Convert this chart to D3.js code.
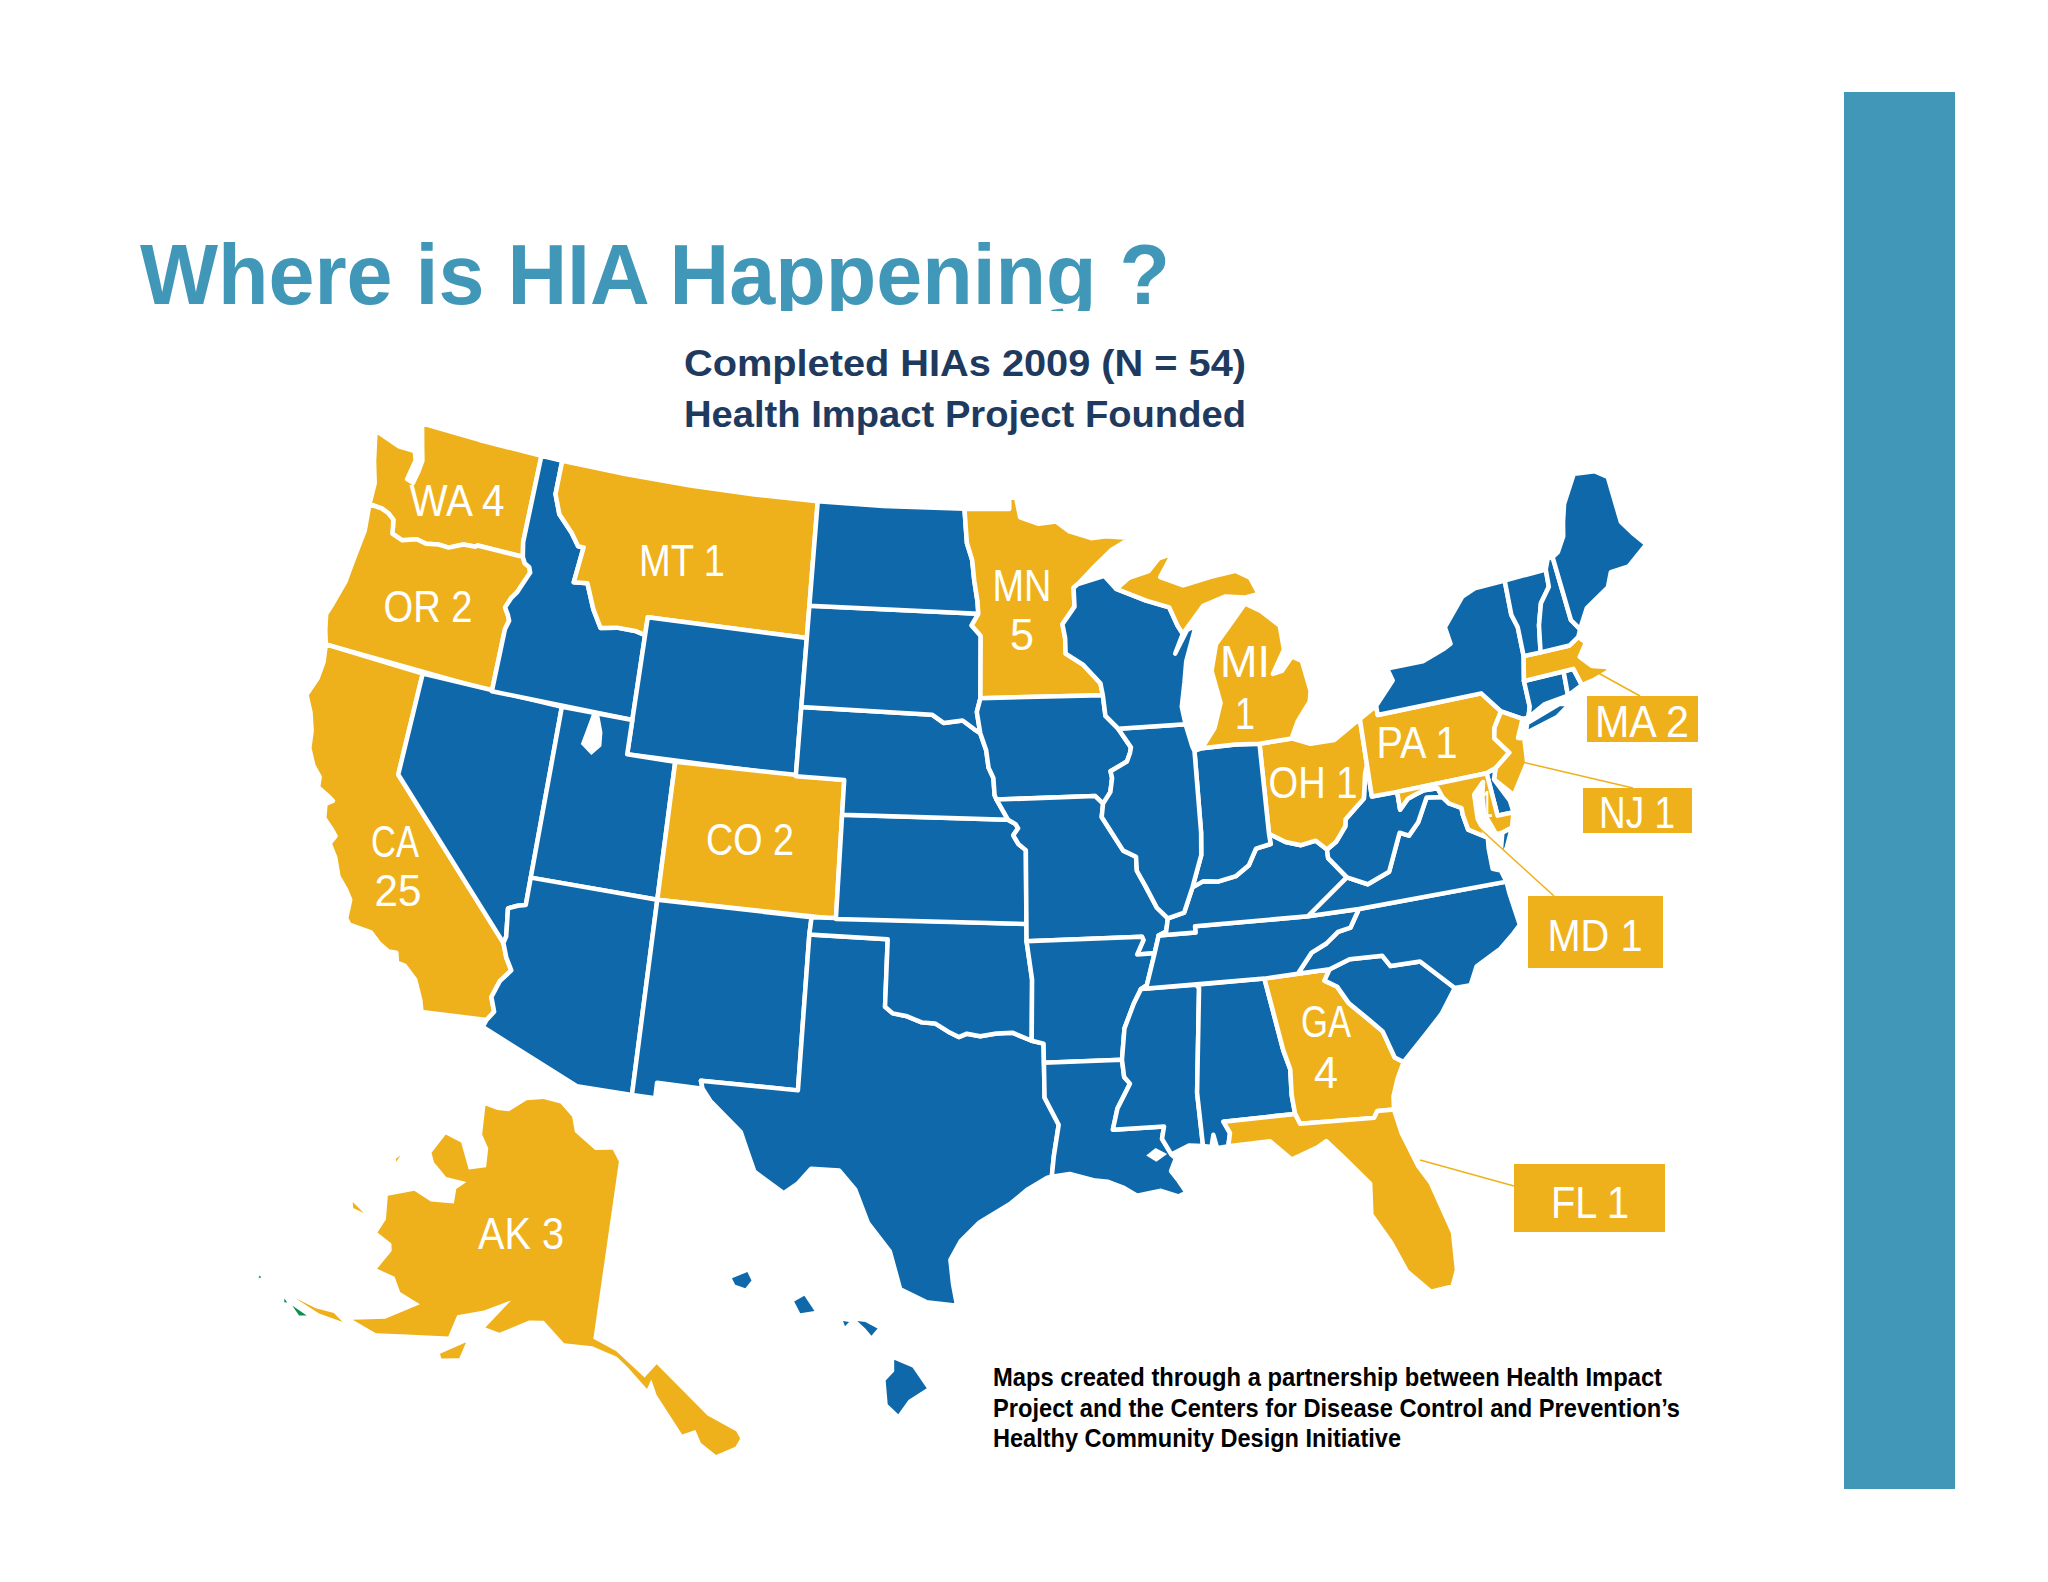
<!DOCTYPE html>
<html>
<head>
<meta charset="utf-8">
<script src="https://cdn.jsdelivr.net/npm/d3@7"></script>
<style>
  html, body { margin: 0; background: #fff; }
  svg { display: block; }
  text { font-family: "Liberation Sans", sans-serif; }
</style>
</head>
<body>
<svg width="2048" height="1582"></svg>
<script>
// what the slide says
var titleText = "Where is HIA Happening ?";
var subtitleLines = ["Completed HIAs 2009 (N = 54)", "Health Impact Project Founded"];
var creditLines = [
  "Maps created through a partnership between Health Impact",
  "Project and the Centers for Disease Control and Prevention\u2019s",
  "Healthy Community Design Initiative"
];

// states with a completed HIA and how many
var hiaStates = ["WA", "OR", "CA", "MT", "CO", "MN", "MI", "OH", "PA", "NJ", "MA", "MD", "GA", "FL", "AK"];
var hiaCounts = [4, 2, 25, 1, 2, 5, 1, 1, 1, 1, 2, 1, 4, 1, 3];

// shared borders, lon/lat
var columbia = [[-124.07,46.27],[-123.5,46.26],[-123.17,46.19],[-122.87,46.05],[-122.8,45.85],[-122.75,45.65],[-122.25,45.55],[-121.65,45.7],[-121.2,45.65],[-120.65,45.73],[-120.2,45.72],[-119.6,45.92],[-119.05,45.95],[-118.98,46],[-116.92,46]];
var snake = [[-116.92,46],[-116.78,45.83],[-116.55,45.75],[-116.46,45.6],[-116.7,45.2],[-116.85,44.95],[-117.05,44.75],[-117.22,44.45],[-117.03,44.25],[-116.93,44.1],[-117.03,43.83],[-117.03,42]];
var caCoast = [[-124.21,42],[-124.1,41.5],[-124.15,41],[-124.4,40.44],[-124.05,40],[-123.8,39.5],[-123.7,39],[-123.35,38.55],[-123,38.3],[-122.95,38],[-122.5,37.85],[-122.25,37.75],[-122.5,37.6],[-122.4,37.2],[-122,36.95],[-121.8,36.8],[-121.95,36.55],[-121.6,36.2],[-121.3,35.7],[-120.9,35.4],[-120.65,35.15],[-120.63,34.6],[-120.45,34.45],[-119.6,34.4],[-119.2,34.15],[-118.8,34],[-118.5,34.02],[-118.4,33.75],[-118.1,33.72],[-117.6,33.4],[-117.25,32.85],[-117.12,32.53]];
var coloradoR = [[-114.72,32.72],[-114.5,33],[-114.7,33.4],[-114.5,33.9],[-114.15,34.27],[-114.42,34.6],[-114.63,35]];
var nvAz = [[-114.63,35],[-114.57,35.2],[-114.7,36],[-114.35,36.13],[-114.05,36.2]];
var rioGrande = [[-106.53,31.78],[-106.2,31.45],[-105,30.65],[-104.7,30.1],[-104.4,29.55],[-103.3,29],[-102.85,29.3],[-102.4,29.77],[-101.4,29.77],[-100.8,29.25],[-100.3,28.3],[-99.5,27.5],[-99.1,26.4],[-98.2,26.05],[-97.15,25.96]];
var sabine = [[-93.84,29.7],[-93.75,30.3],[-93.55,31.2],[-94.04,31.99],[-94.04,33]];
var redR = [[-94.48,33.64],[-95.2,33.88],[-95.8,33.86],[-96.4,33.78],[-96.9,33.85],[-97.2,33.75],[-97.6,33.9],[-98.1,34.13],[-98.6,34.15],[-99.2,34.32],[-99.7,34.38],[-100,34.56]];
var neSd = [[-104.05,43],[-98.5,43],[-98,42.77],[-97.2,42.85],[-96.7,42.6],[-96.45,42.49]];
var neIa = [[-96.45,42.49],[-96.2,42],[-96.1,41.5],[-95.9,41.2],[-95.85,40.7],[-95.77,40.58]];
var ksMo = [[-95.31,40],[-95,39.87],[-94.9,39.75],[-95.1,39.55],[-94.9,39.3],[-94.6,39.12]];
var sdIa = [[-96.45,43.5],[-96.6,43.1],[-96.45,42.49]];
var ndMn = [[-97.23,49],[-97.1,48],[-96.85,47.5],[-96.75,46.9],[-96.6,46.3],[-96.56,45.94]];
var sdMn = [[-96.56,45.94],[-96.85,45.6],[-96.45,45.3],[-96.45,43.5]];
var stCroix = [[-92.3,46.65],[-92.29,46.1],[-92.85,45.6],[-92.75,45.2],[-92.75,44.75],[-92,44.4],[-91.3,43.85],[-91.22,43.5]];
var iaWi = [[-91.22,43.5],[-91.15,42.9],[-90.64,42.51]];
var iaIl = [[-90.64,42.51],[-90.15,41.95],[-90.2,41.8],[-90.35,41.55],[-91.05,41.3],[-91,41.1],[-91.1,40.7],[-91.42,40.38]];
var moIl = [[-91.42,40.38],[-91.5,40],[-91.1,39.5],[-90.7,39],[-90.2,38.8],[-90.2,38.4],[-89.9,37.95],[-89.5,37.3],[-89.1,36.97]];
var kyMo = [[-89.1,36.97],[-89.2,36.6],[-89.5,36.5]];
var arMs = [[-90.3,35],[-90.6,34.6],[-91,33.9],[-91.15,33]];
var laMs = [[-91.15,33],[-91.1,32.5],[-90.9,32.3],[-91.4,31.6],[-91.6,31],[-89.75,31],[-89.85,30.65],[-89.55,30.18]];
var wvOhio = [[-80.52,40.64],[-80.65,40.4],[-80.85,39.7],[-81.7,39.2],[-81.75,39],[-82.2,38.6],[-82.6,38.42]];
var kyOhio = [[-82.6,38.42],[-83,38.72],[-83.6,38.65],[-84.2,38.8],[-84.82,39.1]];
var inOhio = [[-84.82,39.1],[-84.8,38.8],[-85.4,38.72],[-85.75,38.27],[-86.3,38],[-87,37.9],[-87.6,37.95],[-88.05,37.8]];
var ilOhio = [[-88.05,37.8],[-88.45,37.1],[-89.1,36.97]];
var wabash = [[-87.52,41.7],[-87.53,39.35],[-87.6,38.7],[-88.05,37.8]];
var wiMi = [[-90.4,46.55],[-89.1,46.15],[-88.1,45.9],[-87.8,45.35],[-87.6,45.1]];
var gaAl = [[-85.6,34.98],[-85.18,32.87],[-85,32.3],[-85.05,31.55],[-85,31]];
var gaSc = [[-83.1,35],[-83.35,34.7],[-82.9,34.47],[-82.55,33.95],[-81.9,33.4],[-81.45,33],[-81.15,32.2],[-80.85,32.03]];
var gaFl = [[-85,31],[-84.86,30.7],[-82.2,30.57],[-82.05,30.75],[-81.45,30.72]];
var ncSc = [[-83.1,35],[-82.3,35.2],[-81.05,35.15],[-80.8,34.82],[-79.67,34.8],[-78.55,33.86]];
var ncTn = [[-84.32,35],[-83.7,35.55],[-83.1,35.75],[-82.6,36.03],[-82.1,36.1],[-81.68,36.59]];
var kyVa = [[-83.67,36.6],[-81.97,37.54]];
var vaWv = [[-81.97,37.54],[-81.2,37.25],[-80.3,37.5],[-79.65,38.55],[-79.3,38.42],[-78.85,38.75],[-78.35,39.4],[-77.72,39.32]];
var potomacVa = [[-76.25,37.9],[-76.95,38.25],[-77.05,38.7],[-77.05,38.9],[-77.5,39.1],[-77.72,39.32]];
var potomacWv = [[-77.72,39.32],[-77.85,39.6],[-78.4,39.62],[-78.75,39.55],[-79.1,39.47],[-79.48,39.2],[-79.48,39.72]];
var delawareR = [[-74.7,41.36],[-75.1,40.95],[-75.2,40.65],[-74.72,40.15],[-75.4,39.8]];
var idMt = [[-116.05,49],[-116.05,48],[-115.7,47.45],[-115,47],[-114.6,46.65],[-114.35,46.65],[-114.5,45.6],[-113.9,45.65],[-113.45,44.95],[-113,44.45],[-112.3,44.55],[-111.5,44.55],[-111.05,44.48]];
var vtNh = [[-71.5,45.01],[-71.55,44.5],[-72.05,44.1],[-72.35,43.5],[-72.55,42.73]];
var nyVt = [[-73.35,45.01],[-73.4,44],[-73.25,43.6],[-73.28,42.75]];

function rev(a) { return a.slice().reverse(); }

// one outline per state, lon/lat
var stateRings = {
  WA: [[[-124.73,48.38],[-123.5,48.15],[-122.75,48.15],[-122.6,47.9],[-122.75,47.3],[-122.45,47.25],[-122.35,47.6],[-122.3,47.95],[-122.5,48.4],[-122.76,49],[-120,49],[-117.04,49],[-117.04,46.42]].concat(rev(columbia)).concat([[-124.1,46.9],[-124.4,47.5]])],
  OR: [columbia.concat(snake).concat([[-124.21,42],[-124.4,42.4],[-124.55,42.84],[-124.4,43.2],[-124.15,43.9],[-124.07,44.6],[-123.95,45.5]])],
  CA: [caCoast.concat([[-114.72,32.72]]).concat(coloradoR).concat([[-120,39],[-120,42]])],
  NV: [[[-120,42],[-114.04,42]].concat(rev(nvAz)).concat([[-120,39]])],
  ID: [[[-117.04,49]].concat(idMt).concat([[-111.05,42]]).concat(rev(snake)).concat([[-117.04,46.42]])],
  MT: [[[-116.05,49],[-113,49],[-110,49],[-107,49],[-104.05,49],[-104.05,45],[-111.05,45]].concat(rev(idMt).slice(0,-1))],
  WY: [[[-111.05,45],[-104.05,45],[-104.05,41],[-111.05,41]]],
  UT: [[[-114.04,42],[-111.05,42],[-111.05,41],[-109.05,41],[-109.05,37],[-114.05,37]]],
  CO: [[[-109.05,41],[-102.05,41],[-102.05,37],[-109.05,37]]],
  AZ: [[[-114.05,37],[-109.05,37],[-109.05,31.33],[-111.07,31.33],[-114.81,32.5]].concat(coloradoR).concat(nvAz)],
  NM: [[[-109.05,37],[-103,37],[-103.04,36.5],[-103.06,32],[-106.62,32],[-106.53,31.78],[-108.2,31.78],[-108.2,31.33],[-109.05,31.33]]],
  TX: [[[-103.04,36.5],[-103.06,32],[-106.62,32]].concat(rioGrande).concat([[-97.3,26.6],[-97.4,27.3],[-97.05,27.85],[-96.4,28.4],[-95.3,28.95],[-94.7,29.35],[-94,29.68]]).concat(sabine).concat([[-94.04,33.55]]).concat(redR).concat([[-100,36.5]])],
  OK: [[[-103,37],[-94.62,37],[-94.62,36.5],[-94.43,35.4]].concat(redR).concat([[-100,36.5],[-103.04,36.5]])],
  KS: [[[-102.05,40]].concat(ksMo).concat([[-94.62,37],[-102.05,37]])],
  NE: [neSd.concat(neIa).concat([[-95.31,40],[-102.05,40],[-102.05,41],[-104.05,41]])],
  SD: [[[-104.05,45.94]].concat(sdMn).concat(sdIa).concat(rev(neSd))],
  ND: [[[-104.05,49],[-101,49]].concat(ndMn).concat([[-104.05,45.94]])],
  MN: [[[-97.23,49],[-95.15,49],[-95.15,49.38],[-94.82,49.3],[-94.65,48.75],[-93.8,48.55],[-93,48.6],[-92.4,48.3],[-91.4,48.07],[-90.75,48.1],[-89.6,48],[-90.5,47.7],[-91.3,47.25],[-92.1,46.75]].concat(stCroix).concat(rev(sdMn)).concat(rev(ndMn))],
  IA: [[[-96.45,43.5]].concat(iaWi).concat(iaIl).concat([[-91.73,40.61]]).concat(rev(neIa)).concat([[-96.6,43.1]])],
  MO: [[[-95.77,40.58],[-91.73,40.61]].concat(moIl).concat(kyMo).concat([[-89.7,36],[-90.37,36],[-90.1,36.4],[-90.15,36.5],[-94.62,36.5]]).concat(rev(ksMo))],
  AR: [[[-94.62,36.5],[-90.15,36.5],[-90.1,36.4],[-90.37,36],[-89.7,36],[-90.07,35.1],[-90.3,35]].concat(arMs).concat([[-94.04,33],[-94.04,33.55],[-94.48,33.64],[-94.43,35.4]])],
  LA: [[[-94.04,33]].concat(rev(arMs).slice(0,1)).concat(laMs).concat([[-89.4,30.05],[-89.6,29.7],[-89.35,29.4],[-89.1,29.05],[-89.4,28.95],[-90,29.15],[-90.85,29.05],[-91.3,29.3],[-91.85,29.5],[-92.3,29.55],[-93.2,29.77]]).concat(sabine)],
  MS: [[[-88.2,35],[-88.1,34.9],[-88.47,31.9],[-88.4,30.35],[-88.9,30.4]].concat(rev(laMs)).concat(rev(arMs))],
  AL: [[[-88.2,35]].concat(gaAl).concat([[-87.6,31],[-87.4,30.65],[-87.5,30.28],[-87.9,30.25],[-88,30.65],[-88.1,30.3],[-88.4,30.35],[-88.47,31.9],[-88.1,34.9]])],
  GA: [gaAl.concat(gaFl.slice(1)).concat([[-81.4,31.1],[-81.15,31.6]]).concat(rev(gaSc))],
  FL: [[[-87.6,31]].concat(gaFl).concat([[-81.3,30],[-80.9,29],[-80.55,28.45],[-80.05,26.9],[-80.12,25.8],[-80.35,25.35],[-81.1,25.3],[-81.8,26],[-82.2,26.9],[-82.75,27.8],[-82.65,28.7],[-83.4,29.5],[-84,30.1],[-84.35,29.95],[-85.3,29.7],[-86,30.3],[-87.5,30.28],[-87.4,30.65]])],
  SC: [ncSc.concat([[-79.2,33.2],[-79.9,32.7]]).concat(rev(gaSc))],
  NC: [ncTn.concat([[-75.87,36.55],[-75.85,36.2],[-75.7,35.25],[-76,35.05],[-76.6,34.7],[-77.6,34.35],[-77.95,33.85]]).concat(rev(ncSc))],
  TN: [[[-90.3,35],[-85.6,34.98]].concat(ncTn).concat(rev(kyVa).slice(-1)).concat([[-88.07,36.68],[-88.07,36.5],[-89.5,36.5],[-89.7,36],[-90.07,35.1]])],
  KY: [[[-89.5,36.5],[-88.07,36.5],[-88.07,36.68]].concat(kyVa).concat([[-82.6,38.17]]).concat(kyOhio).concat(inOhio.slice(1)).concat(ilOhio.slice(1)).concat([[-89.2,36.6]])],
  VA: [[[-83.67,36.6],[-81.68,36.59],[-75.87,36.55],[-76,36.9],[-76.3,37],[-76.3,37.6]].concat(potomacVa).concat(rev(vaWv))],
  WV: [vaWv.concat(potomacWv).concat([[-80.52,39.72]]).concat(wvOhio).concat([[-82.6,38.17]])],
  OH: [[[-84.82,39.1],[-84.8,41.7],[-83.45,41.73],[-82.7,41.5],[-81.7,41.5],[-80.52,41.98]].concat(wvOhio).concat(kyOhio.slice(1))],
  IN: [[[-84.8,41.7],[-85.8,41.76],[-87.2,41.76]].concat(wabash).concat(rev(inOhio))],
  IL: [[[-90.64,42.51],[-87.8,42.49],[-87.6,41.85]].concat(wabash).concat(ilOhio.slice(1)).concat(rev(moIl).slice(1)).concat(rev(iaIl).slice(1))],
  WI: [[[-92.1,46.75],[-90.9,46.95]].concat(wiMi).concat([[-88,44.55],[-87.4,45.2],[-87,45.3],[-87.55,44.3],[-87.7,43.7],[-87.9,43],[-87.8,42.49],[-90.64,42.51],[-91.15,42.9],[-91.22,43.5]]).concat(rev(stCroix).slice(1))],
  PA: [[[-80.52,41.98],[-79.76,42.27],[-79.76,42],[-75.35,42]].concat(delawareR).concat([[-75.79,39.72],[-79.48,39.72],[-80.52,39.72]])],
  NY: [[[-79.76,42.27],[-78.9,42.9],[-79.05,43.27],[-77.5,43.27],[-76.5,43.5],[-76.2,43.6],[-76.3,44.1],[-75.3,44.85],[-74.7,45]].concat(nyVt).concat([[-73.5,42.05],[-73.5,41.3],[-73.65,41],[-73.9,41],[-74.7,41.36],[-75.35,42],[-79.76,42]])],
  LI: [[[-73.75,40.85],[-72.3,41.15],[-71.87,41.07],[-72.5,40.8],[-73.9,40.58]]],
  NJ: [delawareR.concat([[-75.55,39.5],[-74.9,38.93],[-74.1,39.75],[-74,40.45],[-74.25,40.5],[-73.9,41]])],
  DE: [[[-75.79,39.72],[-75.4,39.8],[-75.55,39.5],[-75.1,38.8],[-75.05,38.45],[-75.7,38.46]]],
  MD: [[[-79.48,39.72],[-75.79,39.72],[-75.7,38.46],[-75.05,38.45],[-75.24,38.03],[-75.65,37.95],[-75.9,37.95],[-76.2,38.6],[-76.15,39.1],[-76,39.5],[-76.45,39.2],[-76.5,38.5],[-76.3,38]].concat(potomacVa).concat(potomacWv.slice(1))],
  VAES: [[[-75.97,37.15],[-75.65,37.95],[-75.24,38.03],[-75.6,37.5]]],
  CT: [[[-73.5,42.05],[-71.8,42.02],[-71.86,41.32],[-72.9,41.25],[-73.65,41],[-73.5,41.3]]],
  RI: [[[-71.8,42.02],[-71.38,42.02],[-71.2,41.5],[-71.86,41.32]]],
  MA: [[[-73.28,42.75],[-72.55,42.73],[-71.3,42.7],[-70.85,42.87],[-70.6,42.65],[-71,42.3],[-70.6,41.95],[-70,41.8],[-70.1,42.05],[-69.95,41.67],[-70.65,41.55],[-71.2,41.5],[-71.38,42.02],[-73.5,42.05]]],
  VT: [nyVt.concat(rev(vtNh))],
  NH: [vtNh.concat([[-71.3,42.7],[-70.85,42.87],[-70.7,43.07],[-70.98,43.4],[-71.08,45.3],[-71.3,45.3]])],
  ME: [[[-71.08,45.3],[-70.8,45.4],[-70.4,45.8],[-70.25,46.2],[-70,46.7],[-69.23,47.46],[-69,47.43],[-68.3,47.35],[-67.8,47.07],[-67.79,45.7],[-67.45,45.3],[-67,44.85],[-68,44.4],[-68.8,44.4],[-69.1,44],[-70.2,43.6],[-70.7,43.07],[-70.98,43.4]]],
  MIU: [[[-90.4,46.55],[-89.8,46.85],[-88.9,47],[-88.4,47.35],[-87.75,47.45],[-88.2,47],[-88.4,46.8],[-87.4,46.5],[-86.1,46.67],[-85,46.75],[-84.4,46.5],[-84.1,46],[-84.7,45.95],[-85.6,46.05],[-86.6,45.85],[-87.6,45.1],[-87.8,45.35],[-88.1,45.9],[-89.1,46.15]]],
  MIL: [[[-84.75,45.78],[-85.4,45.3],[-86.2,44.7],[-86.5,43.95],[-86.25,43],[-86.6,42.3],[-87.2,41.76],[-85.8,41.76],[-84.8,41.7],[-83.45,41.73],[-83.1,42.2],[-82.5,42.7],[-82.4,43],[-82.6,43.9],[-83,44.07],[-83.5,43.7],[-83.9,43.65],[-83.3,44.3],[-83.35,45],[-84.1,45.5]]]
};
// pieces drawn in the colour of the state they belong to
var stateParent = { LI: "NY", VAES: "VA", MIU: "MI", MIL: "MI" };

var greatSaltLake = [[-112.75,41.98],[-112.45,41.98],[-112.2,41.5],[-112.15,41.1],[-112.5,40.8],[-113,41.05],[-112.85,41.6]];
var pontchartrain = [[-90.45,30.2],[-90.1,30.4],[-89.7,30.2],[-90.1,30]];

// Alaska as it sits in the inset
var alaskaMain = [[-141,69.65],[-142.4,70.2],[-145.5,70],[-150,70.6],[-151.5,71.3],[-154.7,71.7],[-158.2,71.5],[-160.9,71],[-162.5,70],[-164.3,69.7],[-166.4,69.5],[-163.9,68.2],[-161.9,67.8],[-160.6,66.9],[-162.5,66.3],[-165.7,67.2],[-168.2,67],[-168,65.8],[-166.9,65.5],[-164.4,65.3],[-161.8,65.7],[-162.4,65.1],[-161.6,64.4],[-164.1,63.8],[-166.5,63.7],[-168.5,62.6],[-166.9,61.6],[-166.7,60.8],[-164.8,60.8],[-164.3,60.5],[-164.4,59.3],[-162.5,59.5],[-161.2,59],[-158.9,59],[-161,57.4],[-163.4,56.4],[-161,56.5],[-158.5,57.3],[-155,58.2],[-155.1,59.4],[-152.8,60.2],[-150.5,61.2],[-152,59.4],[-150.5,59.4],[-148,60.5],[-146.5,60.7],[-143.9,59.8],[-141,59.9],[-139,59.5],[-138.1,59],[-136.6,57.9],[-136.3,58.4],[-135.9,57.6],[-134.2,55.5],[-133.3,55.7],[-133,55],[-132.1,54.3],[-130.8,54.6],[-130.4,55],[-130.6,55.4],[-132.4,56.4],[-135.9,59.2],[-136.8,58.5],[-139.1,59.8],[-141,60.3]];
var alaskaIslands = [
  [[-155,57.2],[-153.2,58.3],[-153.2,57.4],[-154.7,57]],
  [[-170.9,61.1],[-169.2,61.1],[-170.4,60.9]],
  [[-170.8,64.6],[-170.6,64.2],[-170.9,64.3]],
  [[-168.5,55.4],[-166.6,55.7],[-165.1,56.1],[-164,56],[-166.1,55.6],[-168,55.45]]
];
var aleutiansGreen = [
  [[-168.3,55],[-166.8,55.1],[-167.3,54.85]],
  [[-169.2,55],[-168.8,54.95],[-169,54.85]],
  [[-172.1,54.95],[-171.9,54.95],[-172,54.8]]
];
var hawaiiIslands = [
  [[-159.78,22.1],[-159.4,22.24],[-159.3,22.05],[-159.45,21.87],[-159.7,21.95]],
  [[-158.25,21.57],[-158,21.7],[-157.75,21.35],[-158.1,21.3]],
  [[-157.05,21.12],[-156.9,21.1],[-157,21.0]],
  [[-156.7,21.12],[-156.5,21.1],[-156.2,20.95],[-156.35,20.78],[-156.5,20.95]],
  [[-155.79,20.23],[-155.34,20.05],[-154.99,19.57],[-155.44,19.3],[-155.69,18.97],[-155.95,19.2],[-156,19.75],[-155.79,19.96]]
];

var completed = new Map(hiaStates.map(function(s, i) { return [s, hiaCounts[i]]; }));
var blue = "#0e68aa", gold = "#eeb11c", teal = "#4197b7", navy = "#1e3a5f";

var svg = d3.select("svg");
svg.append("rect").attr("width", 2048).attr("height", 1582).attr("fill", "#fff");

// the map in the slide is a little taller than a true Albers
var albers = d3.geoConicEqualArea()
    .rotate([96, 0]).parallels([29.5, 45.5])
    .center([-6.05, 41]).scale(1873).translate([842, 780]);
var stretchX = d3.scaleLinear().domain([1119, 2119]).range([1119, 2111]);
var stretchY = d3.scaleLinear().domain([780, 1780]).range([780, 1835]);
function lower48(p) {
  var q = albers(p);
  return [stretchX(q[0]), stretchY(q[1])];
}

// Alaska inset is a squeezed fan around its own pole
var akRadius = d3.scaleLinear().domain([83.6, 60]).range([0, 452]);
var akAngle = d3.scaleLinear().domain([-180, -168, -141, -131, -120]).range([-56, -41.4, -8.2, 7.8, 25]);
function alaska(p) {
  var r = akRadius(p[1]), a = akAngle(p[0]) * Math.PI / 180;
  return [657 + r * Math.sin(a), 897 + r * Math.cos(a)];
}

var hawaii = d3.geoMercator()
    .center([-155.5, 19.6]).scale(2330).translate([906, 1387]);

function ringPath(ring, proj) {
  return d3.line().curve(d3.curveLinearClosed)(ring.map(function(p) { return proj(p); }));
}

// side bar
svg.append("rect").attr("x", 1844).attr("y", 92).attr("width", 111).attr("height", 1397).attr("fill", teal);

// title is cut off under the line in the slide
svg.append("clipPath").attr("id", "title-clip")
  .append("rect").attr("x", 0).attr("y", 0).attr("width", 2048).attr("height", 311);
svg.append("text").text(titleText)
    .attr("x", 140).attr("y", 304)
    .attr("clip-path", "url(#title-clip)")
    .attr("font-size", 85).attr("font-weight", 700).attr("fill", teal)
    .attr("textLength", 1030).attr("lengthAdjust", "spacingAndGlyphs");

svg.selectAll("text.sub").data(subtitleLines).enter().append("text")
    .attr("class", "sub")
    .text(function(d) { return d; })
    .attr("x", 684).attr("y", function(d, i) { return 376 + i * 51; })
    .attr("font-size", 37).attr("font-weight", 700).attr("fill", navy)
    .attr("textLength", 562).attr("lengthAdjust", "spacingAndGlyphs");

// lower 48
var stateKeys = Object.keys(stateRings);
svg.append("g").selectAll("path").data(stateKeys).enter().append("path")
    .attr("d", function(k) { return stateRings[k].map(function(r) { return ringPath(r, lower48); }).join(""); })
    .attr("fill", function(k) { return completed.has(stateParent[k] || k) ? gold : blue; })
    .attr("stroke", "#fff").attr("stroke-width", 4.5).attr("stroke-linejoin", "round");

svg.append("g").selectAll("path").data([greatSaltLake, pontchartrain]).enter().append("path")
    .attr("d", function(r) { return ringPath(r, lower48); })
    .attr("fill", "#fff");

// Alaska and Hawaii insets
var akGroup = svg.append("g");
akGroup.selectAll("path.gold").data([alaskaMain].concat(alaskaIslands)).enter().append("path")
    .attr("class", "gold")
    .attr("d", function(r) { return ringPath(r, alaska); })
    .attr("fill", gold);
akGroup.selectAll("path.green").data(aleutiansGreen).enter().append("path")
    .attr("class", "green")
    .attr("d", function(r) { return ringPath(r, alaska); })
    .attr("fill", "#0b8f4d");
svg.append("g").selectAll("path").data(hawaiiIslands).enter().append("path")
    .attr("d", function(r) { return ringPath(r, hawaii); })
    .attr("fill", blue);

// callouts: box plus thin leader
var calloutBox = {
  MA: { x: 1587, y: 696, w: 111, h: 46, line: [1591, 669, 1640, 696] },
  NJ: { x: 1583, y: 788, w: 109, h: 45, line: [1522, 762, 1633, 788] },
  MD: { x: 1528, y: 896, w: 135, h: 72, line: [1476, 825, 1554, 896] },
  FL: { x: 1514, y: 1164, w: 151, h: 68, line: [1420, 1160, 1514, 1186] }
};
var callouts = hiaStates.filter(function(s) { return calloutBox[s]; });
svg.append("g").selectAll("line").data(callouts).enter().append("line")
    .attr("x1", function(s) { return calloutBox[s].line[0]; })
    .attr("y1", function(s) { return calloutBox[s].line[1]; })
    .attr("x2", function(s) { return calloutBox[s].line[2]; })
    .attr("y2", function(s) { return calloutBox[s].line[3]; })
    .attr("stroke", gold).attr("stroke-width", 1.5);
svg.append("g").selectAll("rect").data(callouts).enter().append("rect")
    .attr("x", function(s) { return calloutBox[s].x; })
    .attr("y", function(s) { return calloutBox[s].y; })
    .attr("width", function(s) { return calloutBox[s].w; })
    .attr("height", function(s) { return calloutBox[s].h; })
    .attr("fill", gold);

// label placement: centre x, baseline y, width of first line, optional second line
var labelAt = {
  WA: { x: 457, y: 516, w: 95 },
  OR: { x: 428, y: 622, w: 89 },
  CA: { x: 395, y: 857, w: 48, two: [398, 906, 47] },
  MT: { x: 682, y: 576, w: 86 },
  CO: { x: 750, y: 855, w: 88 },
  MN: { x: 1022, y: 601, w: 59, two: [1022, 650, 24] },
  MI: { x: 1245, y: 677, w: 50, two: [1245, 729, 20] },
  OH: { x: 1313, y: 798, w: 89 },
  PA: { x: 1417, y: 758, w: 81 },
  GA: { x: 1326, y: 1037, w: 50, two: [1326, 1088, 24] },
  AK: { x: 521, y: 1249, w: 86 },
  MA: { x: 1642, y: 737, w: 94 },
  NJ: { x: 1637, y: 828, w: 76 },
  MD: { x: 1595, y: 951, w: 95 },
  FL: { x: 1590, y: 1218, w: 78 }
};
var labels = svg.append("g").attr("fill", "#fff");
function putLabel(str, x, y, w, size) {
  labels.append("text").text(str)
      .attr("x", x - w / 2).attr("y", y)
      .attr("font-family", "'Open Sans', sans-serif").attr("font-size", size)
      .attr("textLength", w).attr("lengthAdjust", "spacingAndGlyphs");
}
hiaStates.forEach(function(s, i) {
  var at = labelAt[s];
  if (at.two) {
    putLabel(s, at.x, at.y, at.w, 45);
    putLabel(String(hiaCounts[i]), at.two[0], at.two[1], at.two[2], 45);
  } else {
    putLabel(s + " " + hiaCounts[i], at.x, at.y, at.w, 45);
  }
});
// the stray count left behind on Delmarva
putLabel(String(hiaCounts[hiaStates.indexOf("MD")]), 1487, 817, 12, 36);

// credit
svg.selectAll("text.credit").data(creditLines).enter().append("text")
    .attr("class", "credit")
    .text(function(d) { return d; })
    .attr("x", 993).attr("y", function(d, i) { return 1386 + i * 30.7; })
    .attr("font-size", 25).attr("font-weight", 700).attr("fill", "#000")
    .attr("textLength", function(d, i) { return [669, 687, 408][i]; })
    .attr("lengthAdjust", "spacingAndGlyphs");
</script>
</body>
</html>
